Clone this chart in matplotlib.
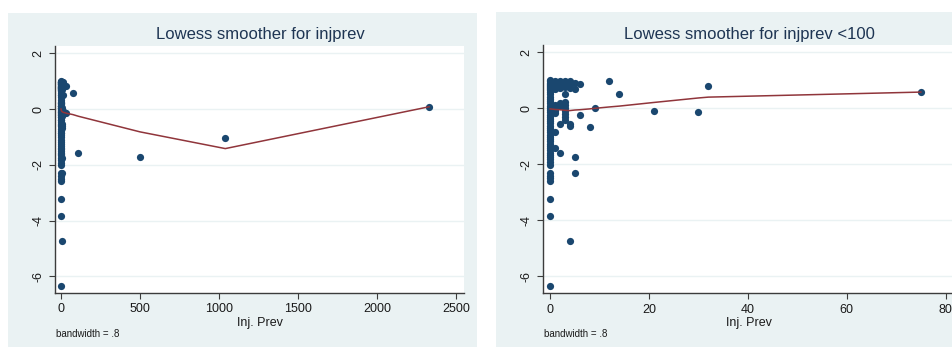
import matplotlib
matplotlib.use("Agg")
import matplotlib.pyplot as plt
from matplotlib.patches import Rectangle
import numpy as np

plt.rcParams['font.family'] = ['Liberation Sans', 'DejaVu Sans']

# Observations: injury prevalence (x) and response (y)
inj_prev = (
    [0] * 50
    + [1] * 13
    + [2] * 8
    + [3] * 12
    + [4] * 6
    + [5] * 4
    + [6] * 2
    + [8, 9, 12, 14, 21, 30, 32, 75, 110, 500, 1040, 2330]
)
resid = (
    # x = 0
    [1.00, 0.96, 0.92, 0.88, 0.84, 0.80, 0.76, 0.72, 0.68, 0.64,
     0.58, 0.50, 0.42, 0.34, 0.26, 0.18, 0.10, 0.02, -0.06, -0.14,
     -0.22, -0.30, -0.38, -0.46, -0.54, -0.62, -0.70, -0.78, -0.86, -0.94,
     -1.02, -1.10, -1.18, -1.26, -1.34, -1.42, -1.50, -1.58, -1.66, -1.74,
     -1.82, -1.92, -2.02, -2.30, -2.40, -2.50, -2.60, -3.22, -3.85, -6.35]
    # x = 1
    + [0.98, 0.92, 0.86, 0.80, 0.74, 0.68, 0.12, 0.05, -0.02, -0.10,
       -0.18, -0.85, -1.40]
    # x = 2
    + [0.96, 0.88, 0.80, 0.72, 0.20, 0.10, -0.57, -1.60]
    # x = 3
    + [0.96, 0.90, 0.82, 0.75, 0.52, 0.22, 0.12, 0.02, -0.10, -0.20,
       -0.30, -0.40]
    # x = 4
    + [0.96, 0.85, 0.72, -0.55, -0.62, -4.73]
    # x = 5
    + [0.92, 0.70, -1.75, -2.29]
    # x = 6
    + [0.86, -0.25]
    # x >= 8
    + [-0.68, 0.02, 0.97, 0.52, -0.10, -0.14, 0.81, 0.57, -1.57, -1.71,
       -1.04, 0.08]
)

# Lowess fitted values (bandwidth .8), full sample
fit_x_all = [0, 1, 2, 3, 4, 5, 6, 8, 9, 12, 14, 21, 30, 32, 75, 110, 500, 1040, 2330]
fit_y_all = [0.0, -0.03, -0.05, -0.06, -0.07, -0.08, -0.09, -0.10, -0.10, -0.11,
             -0.12, -0.13, -0.14, -0.15, -0.20, -0.26, -0.82, -1.42, 0.08]

# Lowess fitted values (bandwidth .8), injprev < 100
fit_x_sub = [0, 1, 2, 3, 4, 5, 6, 8, 9, 12, 14, 21, 30, 32, 75]
fit_y_sub = [-0.02, -0.04, -0.05, -0.07, -0.08, -0.06, -0.05, -0.02, 0.0, 0.05,
             0.08, 0.21, 0.37, 0.40, 0.58]

titles = ["Lowess smoother for injprev", "Lowess smoother for injprev <100"]
xticks_all = [0, 500, 1000, 1500, 2000, 2500]
xticks_sub = [0, 20, 40, 60, 80]
yticks = [2, 0, -2, -4, -6]

W, H = 953, 347
BG = '#eaf2f3'
NAVY = '#1a476f'
MAROON = '#90353b'
AX = '#3c3c3c'
TITLE = '#1e3553'

fig = plt.figure(figsize=(W / 100, H / 100), dpi=100)
fig.patch.set_facecolor('white')

# panel backgrounds (pixel boxes: x0, y0_top, x1, y1_bottom)
for (x0, y0, x1, y1) in [(8, 13, 477, 347), (496, 12, 953, 347)]:
    fig.patches.append(Rectangle((x0 / W, 1 - y1 / H), (x1 - x0) / W, (y1 - y0) / H,
                                 transform=fig.transFigure, facecolor=BG,
                                 edgecolor='none', zorder=-10))


def make_ax(px0, py0, px1, py1):
    a = fig.add_axes([px0 / W, 1 - py1 / H, (px1 - px0) / W, (py1 - py0) / H])
    a.set_zorder(1)
    return a


ax1 = make_ax(55, 46, 464, 293)
ax2 = make_ax(542.7, 45, 955, 293.3)

x = np.array(inj_prev, dtype=float)
y = np.array(resid, dtype=float)
sub = x < 100

panels = [
    (ax1, x, y, fit_x_all, fit_y_all, xticks_all, (-38, 2551), titles[0], 260),
    (ax2, x[sub], y[sub], fit_x_sub, fit_y_sub, xticks_sub, (-1.5, 81.9), titles[1], 749),
]

for ax, xs, ys, fx, fy, xt, xl, title, tx in panels:
    ax.set_facecolor('white')
    ax.scatter(xs, ys, s=27, color=NAVY, linewidths=0, zorder=3, clip_on=False)
    ax.plot(fx, fy, color=MAROON, lw=1.1, zorder=4)
    ax.set_xlim(*xl)
    ax.set_ylim(-6.6, 2.26)
    ax.set_xticks(xt)
    ax.set_yticks(yticks)
    ax.set_yticklabels([str(v) for v in yticks], rotation=90, va='center')
    ax.grid(axis='y', color=BG, lw=1.0, zorder=1)
    ax.set_axisbelow(True)
    for s in ['top', 'right']:
        ax.spines[s].set_visible(False)
    for s in ['left', 'bottom']:
        ax.spines[s].set_color(AX)
        ax.spines[s].set_linewidth(1.0)
    ax.tick_params(axis='both', direction='out', length=4.5, width=0.8,
                   color=AX, labelsize=9, labelcolor='#1a1a1a')
    ax.tick_params(axis='y', pad=3)
    ax.tick_params(axis='x', pad=3)
    ax.set_xlabel("Inj. Prev", fontsize=9, color='#1a1a1a', labelpad=1)
    fig.text(tx / W, 1 - 35 / H, title, ha='center', va='center',
             fontsize=12, color=TITLE)

fig.text(56 / W, 1 - 334 / H, "bandwidth = .8", ha='left', va='center',
         fontsize=7, color='#1a1a1a')
fig.text(544 / W, 1 - 334 / H, "bandwidth = .8", ha='left', va='center',
         fontsize=7, color='#1a1a1a')

fig.savefig('out.png', dpi=100, facecolor='white')
